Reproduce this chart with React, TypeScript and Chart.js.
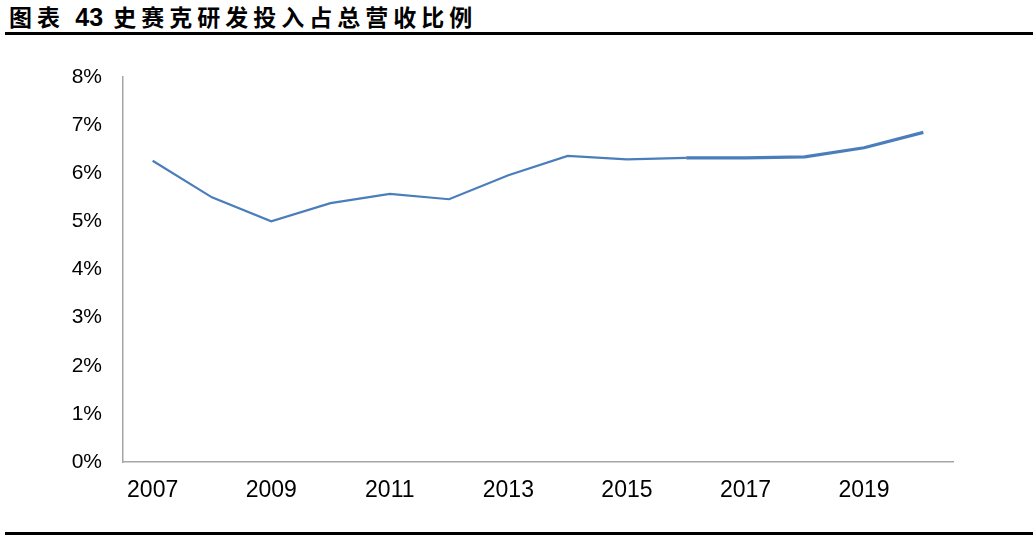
import { useEffect, useRef } from "react";
import { Chart, registerables } from "chart.js";

Chart.register(...registerables);

const years = ["2007", "2008", "2009", "2010", "2011", "2012", "2013", "2014", "2015", "2016", "2017", "2018", "2019", "2020"];
const rdRatio = [6.26, 5.5, 5.0, 5.38, 5.57, 5.46, 5.96, 6.36, 6.29, 6.32, 6.32, 6.34, 6.53, 6.85];
const yTicks = [0, 1, 2, 3, 4, 5, 6, 7, 8];

const TITLE_HEAD = "图表 ";
const TITLE_NUM = "43";
const TITLE_TAIL = " 史赛克研发投入占总营收比例";

export default function App() {
  const canvasRef = useRef<HTMLCanvasElement>(null);
  const chartRef = useRef<Chart | null>(null);

  useEffect(() => {
    if (!canvasRef.current) return;
    if (chartRef.current) chartRef.current.destroy();

    chartRef.current = new Chart(canvasRef.current, {
      type: "line",
      data: {
        labels: years,
        datasets: [
          {
            data: rdRatio,
            borderColor: "#4a7ebb",
            borderWidth: 2.2,
            pointRadius: 0,
            fill: false,
            tension: 0,
            segment: {
              // the later years are drawn a little heavier in the original
              borderWidth: (ctx: any) => (ctx.p0DataIndex >= 9 ? 3.2 : 2.2),
            },
          },
        ],
      },
      options: {
        animation: false,
        responsive: false,
        maintainAspectRatio: false,
        layout: { padding: { top: 37, right: 80, bottom: 33, left: 0 } },
        plugins: {
          legend: { display: false },
          tooltip: { enabled: false },
        },
        scales: {
          x: {
            offset: true,
            grid: { display: false, drawTicks: false },
            border: { display: true, color: "#a6a6a6", width: 1.5 },
            ticks: {
              autoSkip: false,
              maxRotation: 0,
              padding: 15,
              color: "#000",
              font: { family: "'Liberation Sans', Arial, sans-serif", size: 23 },
              callback: (_v: any, i: number) => (i % 2 === 0 ? years[i] : ""),
            },
            afterFit: (scale: any) => {
              scale.height = 45;
            },
          },
          y: {
            min: 0,
            max: 8,
            afterBuildTicks: (scale: any) => {
              scale.ticks = yTicks.map((v) => ({ value: v }));
            },
            grid: { display: false, drawTicks: false },
            border: { display: true, color: "#a6a6a6", width: 1.5 },
            ticks: {
              padding: 21,
              color: "#000",
              font: { family: "'Liberation Sans', Arial, sans-serif", size: 21 },
              callback: (v: any) => `${v}%`,
            },
            afterFit: (scale: any) => {
              scale.width = 123;
            },
          },
        },
      },
    });

    return () => {
      if (chartRef.current) {
        chartRef.current.destroy();
        chartRef.current = null;
      }
    };
  }, []);

  return (
    <div
      style={{
        position: "absolute",
        left: 0,
        top: 0,
        width: 1033,
        height: 540,
        background: "#fff",
        overflow: "hidden",
      }}
    >
      <div
        style={{
          position: "absolute",
          left: 9,
          top: 1,
          fontFamily: "'Noto Sans CJK SC', sans-serif",
          fontWeight: 700,
          fontSize: 23,
          letterSpacing: 5,
          lineHeight: "30px",
          color: "#000",
          whiteSpace: "pre",
        }}
      >
        {TITLE_HEAD}
        <span style={{ letterSpacing: 0, fontFamily: "'Liberation Sans', Arial, sans-serif", fontSize: 25 }}>{TITLE_NUM}</span>
        {TITLE_TAIL}
      </div>
      <div style={{ position: "absolute", left: 5, right: 0, top: 32, height: 3, background: "#000" }} />
      <div style={{ position: "absolute", left: 0, top: 40 }}>
        <canvas ref={canvasRef} width={1033} height={500} style={{ width: 1033, height: 500 }} />
      </div>
      <div style={{ position: "absolute", left: 5, right: 0, top: 532, height: 3, background: "#000" }} />
    </div>
  );
}
